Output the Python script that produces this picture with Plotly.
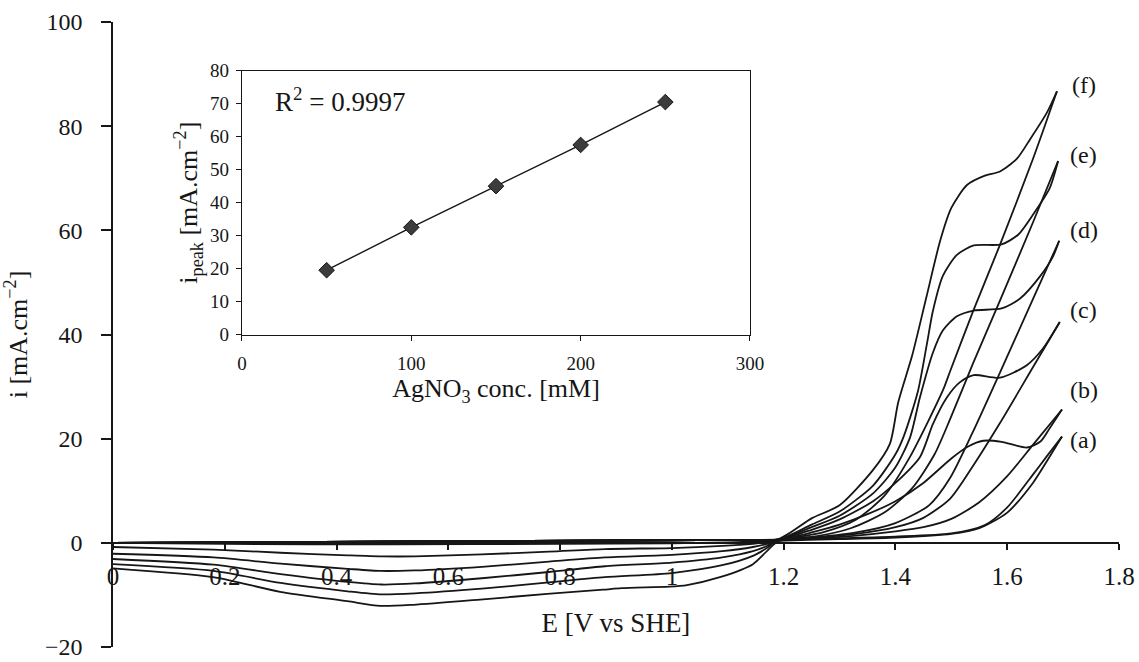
import plotly.graph_objects as go

# ---------------- main chart data: E [V vs SHE], i [mA/cm2] ----------------
# forward (anodic) scans
E_fwd_a = [0.0, 0.3, 0.6, 0.9, 1.1, 1.19, 1.3, 1.4, 1.5, 1.56, 1.6, 1.646, 1.67, 1.698]
i_fwd_a = [0.0, 0.15, 0.3, 0.45, 0.55, 0.6, 0.9, 1.2, 1.8, 3.4, 6.8, 13.1, 16.5, 20.4]

E_fwd_b = [0.0, 0.3, 0.6, 0.9, 1.1, 1.19, 1.25, 1.30, 1.35, 1.40, 1.45, 1.50, 1.53, 1.557, 1.59, 1.635, 1.66, 1.676, 1.698]
i_fwd_b = [0.0, 0.15, 0.3, 0.45, 0.55, 0.6, 2.0, 3.5, 5.5, 8.0, 11.5, 16.2, 18.5, 19.6, 19.4, 18.3, 19.5, 22.0, 25.6]

E_fwd_c = [0.0, 0.3, 0.6, 0.9, 1.1, 1.19, 1.25, 1.30, 1.36, 1.40, 1.444, 1.467, 1.492, 1.515, 1.54, 1.587, 1.635, 1.664, 1.694]
i_fwd_c = [0.0, 0.15, 0.3, 0.45, 0.55, 0.6, 2.5, 4.5, 8.0, 11.5, 16.5, 22.8, 27.9, 30.8, 32.2, 31.7, 34.1, 37.3, 42.4]

E_fwd_d = [0.0, 0.3, 0.6, 0.9, 1.1, 1.19, 1.25, 1.30, 1.36, 1.40, 1.426, 1.444, 1.467, 1.485, 1.51, 1.54, 1.59, 1.623, 1.659, 1.682, 1.693]
i_fwd_d = [0.0, 0.15, 0.3, 0.45, 0.55, 0.6, 3.0, 5.2, 9.5, 14.5, 20.2, 28.0, 36.5, 40.8, 43.5, 44.6, 45.0, 46.9, 51.2, 55.0, 58.0]

E_fwd_e = [0.0, 0.3, 0.6, 0.9, 1.1, 1.19, 1.25, 1.30, 1.36, 1.40, 1.415, 1.44, 1.456, 1.467, 1.485, 1.51, 1.54, 1.59, 1.62, 1.646, 1.676, 1.691]
i_fwd_e = [0.0, 0.15, 0.3, 0.45, 0.55, 0.6, 3.5, 6.0, 11.0, 17.0, 20.5, 29.0, 38.0, 44.5, 51.3, 55.3, 57.1, 57.3, 59.2, 63.0, 68.1, 73.3]

E_fwd_f = [0.0, 0.3, 0.6, 0.9, 1.1, 1.19, 1.25, 1.30, 1.36, 1.39, 1.405, 1.43, 1.455, 1.48, 1.50, 1.528, 1.56, 1.587, 1.617, 1.641, 1.671, 1.689]
i_fwd_f = [0.0, 0.15, 0.3, 0.45, 0.55, 0.7, 4.7, 7.2, 14.0, 19.0, 27.0, 36.0, 47.0, 58.0, 64.3, 68.7, 70.5, 71.3, 73.7, 77.5, 82.6, 86.7]

# reverse (cathodic) scans
E_rev_a = [1.698, 1.67, 1.646, 1.6, 1.55, 1.5, 1.4, 1.3, 1.19, 1.1, 1.0, 0.8, 0.5, 0.2, 0.0]
i_rev_a = [20.4, 15.5, 11.5, 5.8, 2.8, 1.7, 1.0, 0.7, 0.4, 0.1, -0.1, -0.2, -0.3, -0.2, 0.0]

E_rev_b = [1.698, 1.646, 1.6, 1.55, 1.5, 1.45, 1.40, 1.33, 1.26, 1.19, 1.17, 1.145, 1.09, 1.0, 0.88, 0.78, 0.66, 0.54, 0.48, 0.42, 0.3, 0.18, 0.0]
i_rev_b = [25.6, 18.8, 12.8, 7.8, 4.6, 3.0, 2.2, 1.4, 0.9, 0.5, 0.1, -0.2, -0.6, -1.0, -1.2, -1.7, -2.2, -2.6, -2.6, -2.4, -1.9, -1.3, -0.8]

E_rev_c = [1.694, 1.646, 1.587, 1.539, 1.498, 1.45, 1.40, 1.33, 1.26, 1.19, 1.17, 1.145, 1.09, 1.0, 0.88, 0.78, 0.66, 0.54, 0.48, 0.42, 0.3, 0.18, 0.0]
i_rev_c = [42.4, 33.7, 23.0, 14.8, 8.5, 4.8, 3.0, 1.7, 1.0, 0.5, -0.2, -0.8, -1.6, -2.3, -2.8, -3.6, -4.6, -5.3, -5.4, -5.0, -4.0, -2.8, -2.1]

E_rev_d = [1.693, 1.646, 1.587, 1.539, 1.498, 1.46, 1.40, 1.33, 1.26, 1.19, 1.17, 1.145, 1.09, 1.0, 0.88, 0.78, 0.66, 0.54, 0.48, 0.42, 0.3, 0.18, 0.0]
i_rev_d = [58.0, 46.8, 32.7, 21.4, 12.5, 7.2, 3.8, 2.0, 1.1, 0.5, -0.6, -1.6, -2.8, -3.8, -4.5, -5.6, -6.8, -7.8, -8.0, -7.5, -6.0, -4.2, -3.1]

E_rev_e = [1.691, 1.646, 1.587, 1.539, 1.498, 1.47, 1.43, 1.38, 1.32, 1.26, 1.19, 1.17, 1.145, 1.09, 1.0, 0.88, 0.78, 0.66, 0.54, 0.48, 0.42, 0.3, 0.18, 0.0]
i_rev_e = [73.3, 61.5, 46.5, 34.5, 23.8, 17.0, 10.5, 5.8, 2.8, 1.3, 0.5, -1.0, -2.5, -4.3, -5.8, -6.6, -7.6, -8.8, -9.7, -9.9, -9.3, -7.7, -5.4, -4.1]

E_rev_f = [1.689, 1.646, 1.587, 1.539, 1.498, 1.485, 1.426, 1.38, 1.33, 1.27, 1.19, 1.17, 1.145, 1.086, 1.027, 0.995, 0.91, 0.877, 0.777, 0.657, 0.537, 0.478, 0.419, 0.299, 0.179, 0.0]
i_rev_f = [86.7, 73.7, 57.2, 44.5, 33.0, 29.3, 16.5, 9.0, 4.5, 2.0, 0.3, -1.6, -4.1, -6.6, -8.1, -8.4, -8.7, -9.0, -9.8, -10.9, -11.9, -12.1, -11.2, -9.4, -6.6, -4.9]

curve_names = ["(a)", "(b)", "(c)", "(d)", "(e)", "(f)"]

# ---------------- inset data ----------------
conc_mM = [50, 100, 150, 200, 250]
i_peak = [19.5, 32.5, 45.0, 57.5, 70.5]
r2_text = "R<sup>2</sup> = 0.9997"

x_ticks_main = [0, 0.2, 0.4, 0.6, 0.8, 1.0, 1.2, 1.4, 1.6, 1.8]
x_ticklabels_main = ["0", "0.2", "0.4", "0.6", "0.8", "1", "1.2", "1.4", "1.6", "1.8"]

# ---------------- figure ----------------
FONT = "Liberation Serif"
INK = "#161616"

fig = go.Figure()

branches = [
    (E_fwd_a, i_fwd_a), (E_rev_a, i_rev_a),
    (E_fwd_b, i_fwd_b), (E_rev_b, i_rev_b),
    (E_fwd_c, i_fwd_c), (E_rev_c, i_rev_c),
    (E_fwd_d, i_fwd_d), (E_rev_d, i_rev_d),
    (E_fwd_e, i_fwd_e), (E_rev_e, i_rev_e),
    (E_fwd_f, i_fwd_f), (E_rev_f, i_rev_f),
]
for ex, iy in branches:
    fig.add_trace(go.Scatter(
        x=ex, y=iy, mode="lines", xaxis="x", yaxis="y",
        line=dict(color=INK, width=1.8, shape="spline", smoothing=0.7),
        showlegend=False, hoverinfo="skip"))

fig.add_trace(go.Scatter(
    x=conc_mM, y=i_peak, mode="lines+markers", xaxis="x2", yaxis="y2",
    line=dict(color=INK, width=1.4),
    marker=dict(symbol="diamond", size=12, color="#3c3c3c",
                line=dict(color=INK, width=1)),
    showlegend=False, hoverinfo="skip"))

# curve labels, at the end of each curve
label_E = 1.737
label_i = [19.8, 29.4, 44.7, 60.0, 74.4, 87.9]
annotations = []
for name, yy in zip(curve_names, label_i):
    annotations.append(dict(x=label_E, y=yy, xref="x", yref="y", text=name,
                            showarrow=False, xanchor="center", yanchor="middle",
                            font=dict(family=FONT, size=24, color=INK)))
annotations.append(dict(x=58, y=71, xref="x2", yref="y2", text=r2_text,
                        showarrow=False, xanchor="center", yanchor="middle",
                        font=dict(family=FONT, size=27, color=INK)))

y_min, y_max = -20, 100

fig.update_layout(
    width=1139, height=662,
    margin=dict(l=113, r=20, t=22, b=15),
    paper_bgcolor="white", plot_bgcolor="white",
    font=dict(family=FONT, color=INK),
    annotations=annotations,
    xaxis=dict(
        domain=[0, 1], range=[0, 1.8], anchor="free",
        position=(0 - y_min) / (y_max - y_min),
        tickvals=x_ticks_main, ticktext=x_ticklabels_main,
        showline=True, linecolor=INK, linewidth=1.5,
        ticks="outside", ticklen=6, tickwidth=1.5, tickcolor=INK,
        ticklabelstandoff=5,
        tickfont=dict(family=FONT, size=25, color=INK),
        showgrid=False, zeroline=False, automargin=False,
        title=dict(text="E [V vs SHE]", font=dict(family=FONT, size=27, color=INK),
                   standoff=24),
    ),
    yaxis=dict(
        domain=[0, 1], range=[y_min, y_max], anchor="x",
        dtick=20, tick0=0,
        showline=True, linecolor=INK, linewidth=1.5,
        ticks="outside", ticklen=10, tickwidth=1.5, tickcolor=INK,
        ticklabelstandoff=14, ticklabeloverflow="allow",
        tickfont=dict(family=FONT, size=24, color=INK),
        showgrid=False, zeroline=False, automargin=False,
        title=dict(text="i [mA.cm<sup>−2</sup>]", font=dict(family=FONT, size=26, color=INK),
                   standoff=12),
    ),
    xaxis2=dict(
        domain=[0.1282, 0.6332], range=[0, 300], anchor="y2",
        dtick=100, tick0=0,
        showline=True, mirror=True, linecolor=INK, linewidth=1.3,
        ticks="outside", ticklen=5, tickwidth=1.2, tickcolor=INK,
        ticklabelstandoff=7,
        tickfont=dict(family=FONT, size=19, color=INK),
        showgrid=False, zeroline=False, automargin=False,
        title=dict(text="AgNO<sub>3</sub> conc. [mM]", font=dict(family=FONT, size=26, color=INK),
                   standoff=0),
    ),
    yaxis2=dict(
        domain=[0.5, 0.922], range=[0, 80], anchor="x2",
        dtick=10, tick0=0,
        showline=True, mirror=True, linecolor=INK, linewidth=1.3,
        ticks="outside", ticklen=5, tickwidth=1.2, tickcolor=INK,
        ticklabelstandoff=3,
        tickfont=dict(family=FONT, size=19, color=INK),
        showgrid=False, zeroline=False, automargin=False,
        title=dict(text="i<sub>peak</sub> [mA.cm<sup>−2</sup>]", font=dict(family=FONT, size=26, color=INK),
                   standoff=4),
    ),
)

fig.write_html("out.html")
